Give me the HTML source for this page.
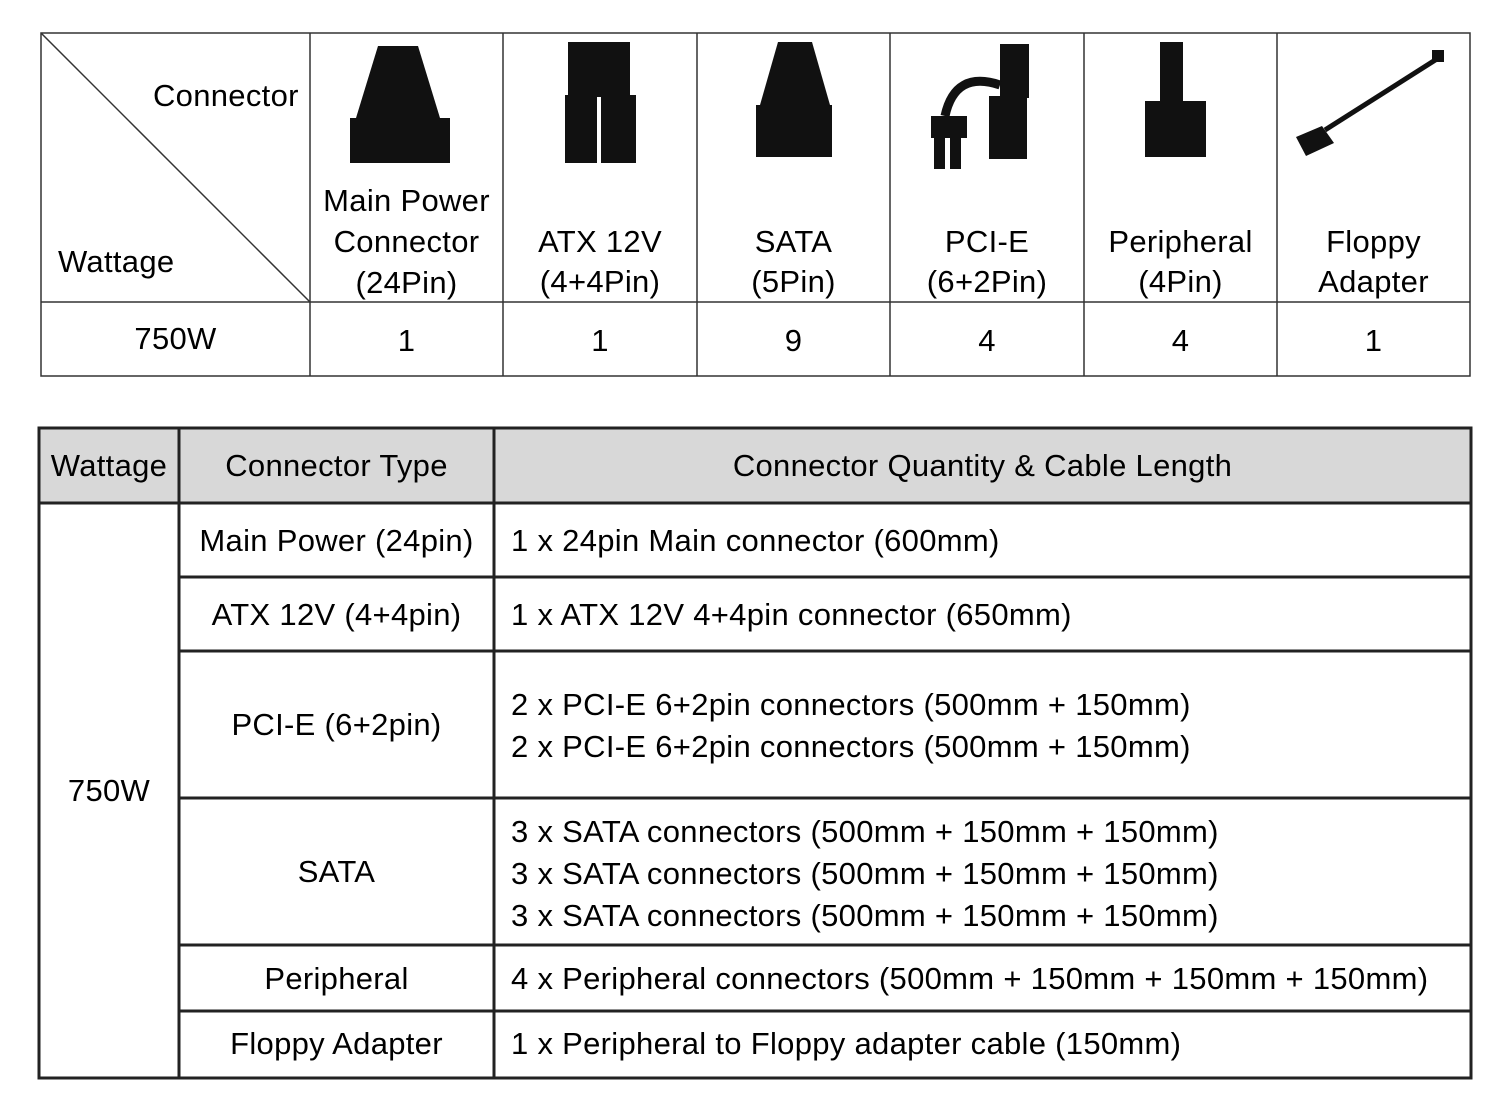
<!DOCTYPE html>
<html><head><style>
body{margin:0;background:#fff;width:1492px;height:1112px;position:relative;overflow:hidden;font-family:"Liberation Sans",Arial,sans-serif;color:#000}
.t{position:absolute;font-size:31px;letter-spacing:0.3px;line-height:40px;white-space:nowrap}
.c{text-align:center}
</style></head><body>
<svg width="1492" height="1112" style="position:absolute;left:0;top:0">
<g stroke="#333" stroke-width="1.5" fill="none">
<rect x="41" y="33" width="1429" height="343"/>
<line x1="41" y1="302" x2="1470" y2="302"/>
<line x1="310" y1="33" x2="310" y2="376"/><line x1="503" y1="33" x2="503" y2="376"/>
<line x1="697" y1="33" x2="697" y2="376"/><line x1="890" y1="33" x2="890" y2="376"/>
<line x1="1084" y1="33" x2="1084" y2="376"/><line x1="1277" y1="33" x2="1277" y2="376"/>
<line x1="41" y1="33" x2="310" y2="302"/>
</g>
<rect x="40" y="428" width="1430" height="75" fill="#d8d8d8"/>
<g stroke="#222" stroke-width="3" fill="none">
<rect x="39" y="428" width="1432" height="650"/>
<line x1="39" y1="503" x2="1471" y2="503"/>
<line x1="179" y1="428" x2="179" y2="1078"/><line x1="494" y1="428" x2="494" y2="1078"/>
<line x1="179" y1="577" x2="1471" y2="577"/><line x1="179" y1="651" x2="1471" y2="651"/>
<line x1="179" y1="798" x2="1471" y2="798"/><line x1="179" y1="945" x2="1471" y2="945"/>
<line x1="179" y1="1011" x2="1471" y2="1011"/>
</g>
<g fill="#111">
<path d="M378 46 L418 46 L440 118 L356 118 Z"/>
<rect x="350" y="118" width="100" height="45"/>
<rect x="568" y="42" width="62" height="55"/>
<rect x="565" y="95" width="32" height="68"/><rect x="601" y="95" width="35" height="68"/>
<path d="M778 42 L812 42 L830 105 L760 105 Z"/>
<rect x="756" y="105" width="76" height="52"/>
<rect x="1000" y="44" width="29" height="54"/>
<path d="M945 116 Q955 70 1000 85" stroke="#111" stroke-width="9" fill="none"/>
<rect x="931" y="116" width="36" height="22"/><rect x="934" y="138" width="11" height="31"/><rect x="950" y="138" width="11" height="31"/>
<rect x="989" y="96" width="38" height="63"/>
<rect x="1160" y="42" width="23" height="60"/>
<rect x="1145" y="101" width="61" height="56"/>
<path d="M1325 130 L1440 57" stroke="#111" stroke-width="5" fill="none"/>
<rect x="1432" y="50" width="12" height="12"/>
<polygon points="1296,137 1322,126 1334,143 1306,156"/>
</g>
</svg>
<div class="t" style="left:153px;top:76px">Connector</div>
<div class="t" style="left:58px;top:242px">Wattage</div>
<div class="t c" style="left:310px;width:193px;top:180px;line-height:41px">Main Power<br>Connector<br>(24Pin)</div>
<div class="t c" style="left:503px;width:194px;top:222px">ATX 12V<br>(4+4Pin)</div>
<div class="t c" style="left:697px;width:193px;top:222px">SATA<br>(5Pin)</div>
<div class="t c" style="left:890px;width:194px;top:222px">PCI-E<br>(6+2Pin)</div>
<div class="t c" style="left:1084px;width:193px;top:222px">Peripheral<br>(4Pin)</div>
<div class="t c" style="left:1277px;width:193px;top:222px">Floppy<br>Adapter</div>
<div class="t c" style="left:41px;width:269px;top:319px">750W</div>
<div class="t c" style="left:310px;width:193px;top:321px">1</div>
<div class="t c" style="left:503px;width:194px;top:321px">1</div>
<div class="t c" style="left:697px;width:193px;top:321px">9</div>
<div class="t c" style="left:890px;width:194px;top:321px">4</div>
<div class="t c" style="left:1084px;width:193px;top:321px">4</div>
<div class="t c" style="left:1277px;width:193px;top:321px">1</div>

<div class="t c" style="left:39px;width:140px;top:446px">Wattage</div>
<div class="t c" style="left:179px;width:315px;top:446px">Connector Type</div>
<div class="t c" style="left:494px;width:977px;top:446px">Connector Quantity &amp; Cable Length</div>
<div class="t c" style="left:39px;width:140px;top:771px">750W</div>
<div class="t c" style="left:179px;width:315px;top:521px">Main Power (24pin)</div>
<div class="t c" style="left:179px;width:315px;top:595px">ATX 12V (4+4pin)</div>
<div class="t c" style="left:179px;width:315px;top:705px">PCI-E (6+2pin)</div>
<div class="t c" style="left:179px;width:315px;top:852px">SATA</div>
<div class="t c" style="left:179px;width:315px;top:959px">Peripheral</div>
<div class="t c" style="left:179px;width:315px;top:1024px">Floppy Adapter</div>
<div class="t" style="left:511px;top:521px">1 x 24pin Main connector (600mm)</div>
<div class="t" style="left:511px;top:595px">1 x ATX 12V 4+4pin connector (650mm)</div>
<div class="t" style="left:511px;top:684px;line-height:42px">2 x PCI-E 6+2pin connectors (500mm + 150mm)<br>2 x PCI-E 6+2pin connectors (500mm + 150mm)</div>
<div class="t" style="left:511px;top:811px;line-height:42px">3 x SATA connectors (500mm + 150mm + 150mm)<br>3 x SATA connectors (500mm + 150mm + 150mm)<br>3 x SATA connectors (500mm + 150mm + 150mm)</div>
<div class="t" style="left:511px;top:959px">4 x Peripheral connectors (500mm + 150mm + 150mm + 150mm)</div>
<div class="t" style="left:511px;top:1024px">1 x Peripheral to Floppy adapter cable (150mm)</div>
</body></html>
